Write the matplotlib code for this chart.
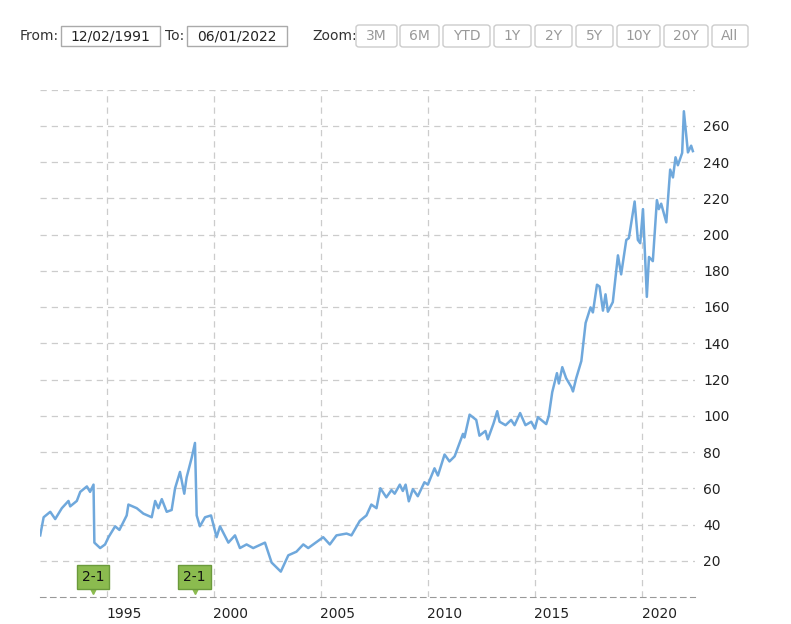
import matplotlib
matplotlib.use('Agg')
import matplotlib.pyplot as plt
from matplotlib.patches import Rectangle, FancyBboxPatch

# decimal year / price
dates = [1991.89, 1992.05, 1992.36, 1992.59, 1992.90, 1993.21, 1993.29, 1993.60, 1993.76, 1994.07,
         1994.22, 1994.38, 1994.42, 1994.69, 1994.92, 1995.08, 1995.39, 1995.59, 1995.93, 1996.01,
         1996.40, 1996.71, 1997.10, 1997.26, 1997.41, 1997.57, 1997.80, 1998.03, 1998.19, 1998.42,
         1998.62, 1998.73, 1998.97, 1999.12, 1999.20, 1999.35, 1999.59, 1999.87, 2000.13, 2000.29,
         2000.68, 2000.99, 2001.22, 2001.53, 2001.84, 2002.39, 2002.70, 2003.13, 2003.48, 2003.86,
         2004.18, 2004.41, 2005.11, 2005.42, 2005.73, 2006.20, 2006.43, 2006.82, 2007.13, 2007.36,
         2007.60, 2007.78, 2008.06, 2008.30, 2008.45, 2008.69,
         2008.83, 2008.96, 2009.11, 2009.30, 2009.53, 2009.84, 2010.00, 2010.31, 2010.47, 2010.78,
         2011.01, 2011.25, 2011.64, 2011.71, 2011.95, 2012.26, 2012.41, 2012.69, 2012.80, 2013.07,
         2013.24, 2013.35, 2013.63, 2013.89, 2014.05, 2014.31, 2014.56, 2014.83, 2015.00, 2015.14,
         2015.53, 2015.65, 2015.81, 2016.03, 2016.12, 2016.28, 2016.46, 2016.70, 2016.78, 2016.93,
         2017.17, 2017.37, 2017.60, 2017.71, 2017.90, 2018.02, 2018.18, 2018.30, 2018.41, 2018.64,
         2018.88, 2019.03, 2019.27, 2019.39, 2019.66, 2019.81, 2019.92, 2020.05, 2020.23, 2020.33,
         2020.51, 2020.70, 2020.79, 2020.90, 2021.14, 2021.32, 2021.45, 2021.57, 2021.68, 2021.88,
         2021.96, 2022.15, 2022.30, 2022.38]
prices = [34, 44, 47, 43, 49, 53, 50, 53, 58, 61,
          58, 62, 30, 27, 29, 33, 39, 37, 45, 51,
          49, 46, 44, 53, 49, 54, 47, 48, 60, 69,
          57, 66, 77, 85, 45, 39, 44, 45, 33, 39,
          30, 34, 27, 29, 27, 30, 19, 14, 23, 25,
          29, 27, 33, 29, 34, 35, 34, 42, 45, 51,
          49, 60, 55, 59, 57, 62,
          58.5, 62, 52.8, 59.5, 55.6, 63.3, 62, 71, 67, 78.6,
          74.8, 77.6, 90, 88, 100.6, 97.7, 89, 91.6, 87, 95.8,
          102.5, 96.7, 94.8, 97.7, 94.8, 101.5, 94.8, 96.7, 92.9, 99.2,
          95.4, 100, 113, 123.5, 117.8, 126.8, 120.7, 115.9, 113.4, 120.7,
          130.2, 151.2, 159.8, 157, 172.3, 171.3, 158, 167, 157.4, 162.7,
          188.5, 178, 197, 198, 218.2, 197, 195.2, 214, 165.6, 187.6,
          185.3, 219, 214, 217, 206.7, 235.8, 231.5, 242.6, 238.2, 245,
          268, 245.3, 249, 246]

split_dates = [1994.35, 1999.1]
split_labels = ['2-1', '2-1']
year_ticks = [1995, 2000, 2005, 2010, 2015, 2020]
y_ticks = [20, 40, 60, 80, 100, 120, 140, 160, 180, 200, 220, 240, 260, 280]

W, H = 791, 624
fig = plt.figure(figsize=(W / 100, H / 100), dpi=100)
ax = fig.add_axes([40 / W, 27 / H, 655 / W, 507.5 / H])

ax.plot(dates, prices, color='#6fa8dc', lw=1.8, zorder=3)
ax.set_xlim(1991.88, 2022.48)
ax.set_ylim(0, 280)

# gridlines sit on the year, the labels are drawn a bit to the right of them
ax.set_xticks(year_ticks, minor=True)
ax.set_xticks([y + 0.8 for y in year_ticks])
ax.set_xticklabels([str(y) for y in year_ticks], fontsize=10, color='#222222')
ax.set_yticks(y_ticks)
ax.set_yticklabels([str(v) if v < 280 else '' for v in y_ticks], fontsize=10, color='#222222')
ax.yaxis.tick_right()
ax.tick_params(which='both', length=0, pad=6)
ax.tick_params(axis='x', pad=7)
ax.grid(False, axis='x', which='major')
ax.grid(True, axis='x', which='minor', color='#cccccc', ls=(0, (5, 4)), lw=0.9)
ax.grid(True, axis='y', color='#cccccc', ls=(0, (5, 4)), lw=0.9)
for s in ['top', 'left', 'right']:
    ax.spines[s].set_visible(False)
ax.spines['bottom'].set_color('#999999')
ax.spines['bottom'].set_linestyle((0, (5, 4)))

for d, lab in zip(split_dates, split_labels):
    ax.text(d, 11, lab, ha='center', va='center', fontsize=10, color='#111111', zorder=5,
            bbox=dict(boxstyle='square,pad=0.35', fc='#8bbb4f', ec='#6b9a3b', lw=1))
    ax.plot(d, 3.6, marker='v', ms=6, color='#8bbb4f', zorder=4, clip_on=False)

# range selector controls on top
def fx(x):
    return x / W

def fy(y):
    return (H - y) / H

fig.text(fx(20), fy(36), 'From:', fontsize=10, va='center', color='#333333')
fig.text(fx(165), fy(36), 'To:', fontsize=10, va='center', color='#333333')
for x0, x1, txt in [(61, 160, '12/02/1991'), (187, 287, '06/01/2022')]:
    fig.patches.append(Rectangle((fx(x0), fy(46)), fx(x1 - x0), 20 / H, transform=fig.transFigure,
                                 fc='white', ec='#aaaaaa', lw=1))
    fig.text(fx((x0 + x1) / 2), fy(36), txt, fontsize=10, ha='center', va='center', color='#222222')
fig.text(fx(312), fy(36), 'Zoom:', fontsize=10, va='center', color='#333333')
buttons = [(356, 397, '3M'), (400, 439, '6M'), (443, 490, 'YTD'), (494, 531, '1Y'), (535, 572, '2Y'),
           (576, 613, '5Y'), (617, 660, '10Y'), (664, 708, '20Y'), (712, 748, 'All')]
for x0, x1, txt in buttons:
    fig.patches.append(FancyBboxPatch((fx(x0), fy(47)), fx(x1 - x0), 22 / H,
                                      boxstyle='round,pad=0,rounding_size=0.004',
                                      transform=fig.transFigure, fc='white', ec='#cccccc', lw=1))
    fig.text(fx((x0 + x1) / 2), fy(36), txt, fontsize=10, ha='center', va='center', color='#999999')

fig.savefig('out.png', dpi=100)
